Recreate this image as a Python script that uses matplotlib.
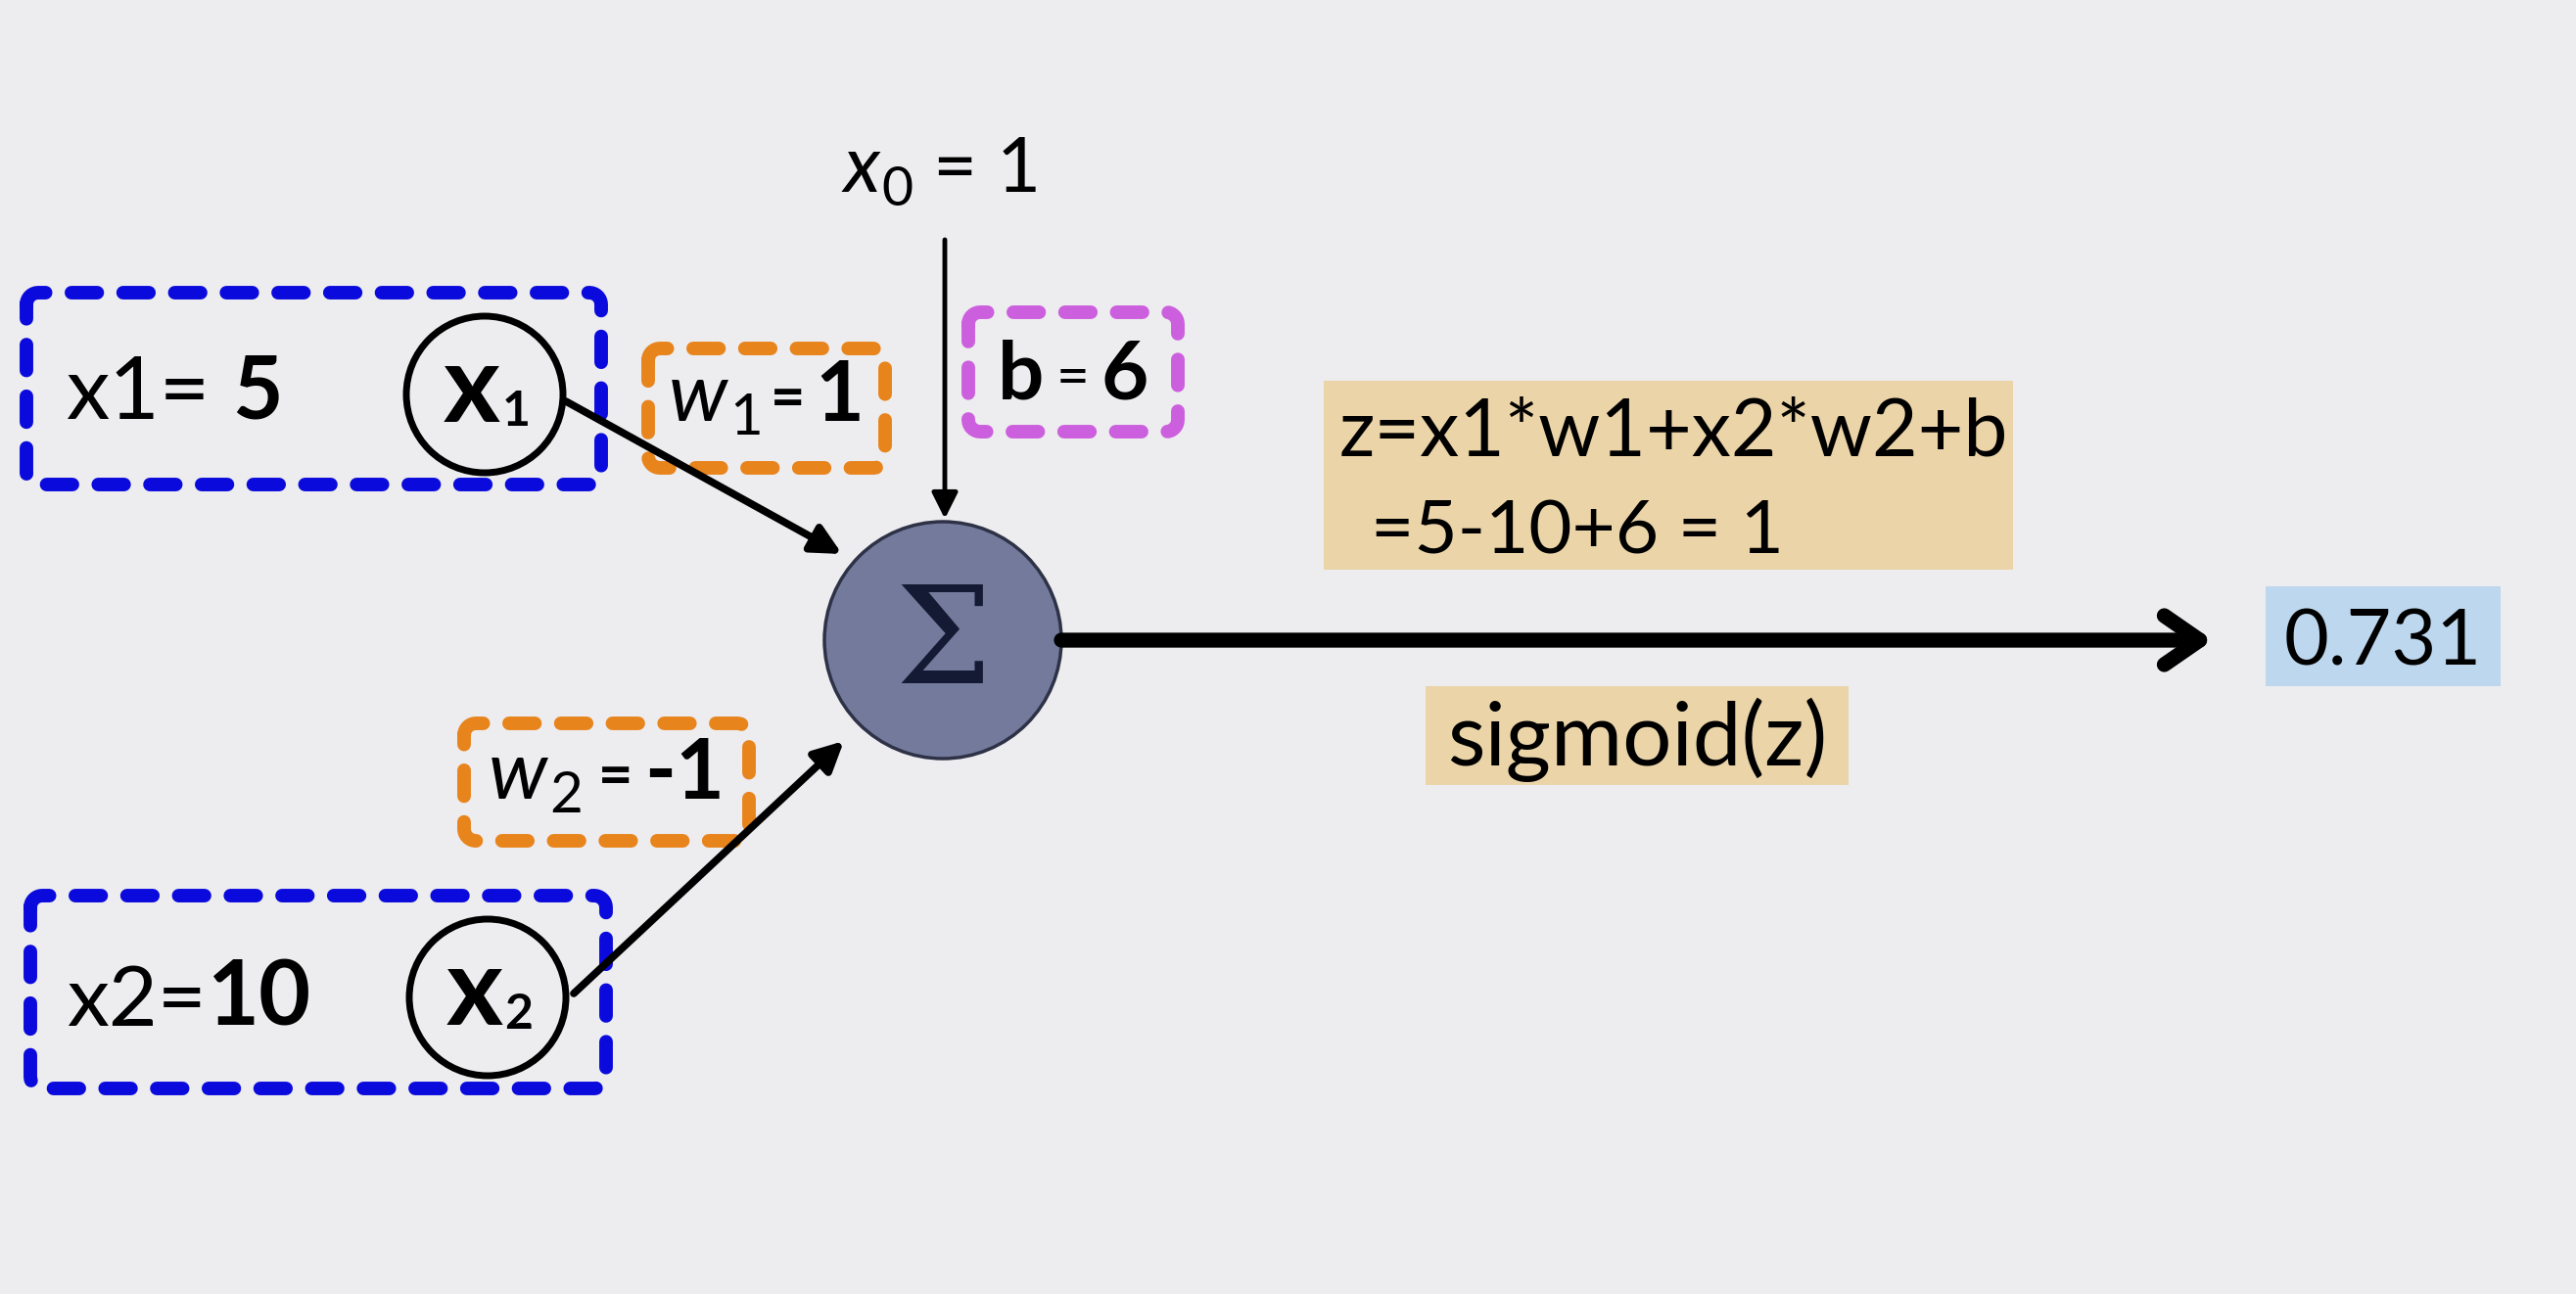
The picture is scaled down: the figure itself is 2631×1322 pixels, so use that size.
import matplotlib
matplotlib.use('Agg')
import numpy as np
import matplotlib.pyplot as plt
from matplotlib.patches import Circle, Rectangle

plt.rcParams['font.family'] = ['Lato', 'DejaVu Sans']

# values shown in the diagram
x_values = [5, 10]
weights = [1, -1]
bias = 6
x0 = 1
z_value = 1
output = 0.731

# layout (pixel coords of the 2631x1322 canvas)
W, H = 2631, 1322
bg = '#EDECEF'
sum_c, sum_r = (963, 654), 121
inp_c = [(495, 403), (498, 1019)]
inp_r = 80
inp_box = [(27, 299, 587, 196), (31, 915, 588, 197)]
w_box = [(662, 356, 242, 122), (474, 739, 291, 120)]
b_box = (989, 319, 214, 122)

fig = plt.figure(figsize=(W / 100, H / 100), dpi=100, facecolor=bg)
ax = fig.add_axes([0, 0, 1, 1])
ax.set_xlim(0, W)
ax.set_ylim(H, 0)
ax.set_facecolor(bg)
ax.axis('off')
rend = fig.canvas.get_renderer()


def dashed_box(rect, color, r=12):
    x, y, w, h = rect
    t = np.linspace(0, np.pi / 2, 8)
    # corner arcs, clockwise on screen starting at top-left
    xs, ys = [], []
    for cx, cy, a0 in [(x + r, y + r, np.pi), (x + w - r, y + r, 1.5 * np.pi),
                       (x + w - r, y + h - r, 0), (x + r, y + h - r, 0.5 * np.pi)]:
        xs.extend(cx + r * np.cos(a0 + t))
        ys.extend(cy + r * np.sin(a0 + t))
    xs.append(xs[0])
    ys.append(ys[0])
    ax.plot(xs, ys, color=color, lw=10, dashes=(1.9, 1.9),
            dash_capstyle='round', solid_joinstyle='round')


def runs(x, y, parts, ha='left'):
    # parts: (text, fontsize, weight, style, dy, gap_before)
    objs = []
    cx = x
    for s, size, weight, style, dy, gap in parts:
        cx += gap
        t = ax.text(cx, y + dy, s, fontsize=size, fontweight=weight, fontstyle=style,
                    va='baseline', ha='left')
        cx += t.get_window_extent(rend).width
        objs.append(t)
    if ha == 'center':
        shift = (cx - x) / 2
        for t in objs:
            px, py = t.get_position()
            t.set_position((px - shift, py))


# input boxes
for i in range(2):
    dashed_box(inp_box[i], '#0A0ADC')
    ax.add_patch(Circle(inp_c[i], inp_r, fill=False, edgecolor='black', lw=5))
    runs(inp_c[i][0] + 2, inp_c[i][1] + 28,
         [('x', 80, 'bold', 'normal', 0, 0),
          (str(i + 1), 36, 'bold', 'normal', 4, 2)], ha='center')

runs(68, 428, [('x1=', 64, 'normal', 'normal', 0, 0),
               (str(x_values[0]), 64, 'bold', 'normal', 0, 22)])
runs(68, 1048, [('x2=', 62, 'normal', 'normal', 0, 0),
                (str(x_values[1]), 66, 'bold', 'normal', 0, 0)])

# weight boxes
runs(w_box[0][0] + w_box[0][2] / 2, 430,
     [('w', 60, 'normal', 'italic', 0, 0),
      ('1', 42, 'normal', 'normal', 14, 2),
      ('=', 44, 'bold', 'normal', -4, 8),
      (str(weights[0]), 62, 'bold', 'normal', 0, 10)], ha='center')
runs(w_box[1][0] + w_box[1][2] / 2, 816,
     [('w', 60, 'normal', 'italic', 0, 0),
      ('2', 42, 'normal', 'normal', 14, 2),
      ('=', 44, 'bold', 'normal', -4, 16),
      ('-' + str(abs(weights[1])), 62, 'bold', 'normal', 0, 12)], ha='center')
dashed_box(w_box[0], '#E8841C')
dashed_box(w_box[1], '#E8841C')

# bias
dashed_box(b_box, '#CC5FDD')
runs(b_box[0] + b_box[2] / 2, 408,
     [('b', 60, 'bold', 'normal', 0, 0),
      ('=', 42, 'normal', 'normal', -4, 12),
      (str(bias), 60, 'bold', 'normal', 0, 12)], ha='center')

runs(962, 196, [('x', 58, 'normal', 'italic', 0, 0),
                ('0', 40, 'normal', 'normal', 14, 2),
                ('= %d' % x0, 56, 'normal', 'normal', 0, 20)], ha='center')

# arrows into the sum node
ax.annotate('', xy=(965, 530), xytext=(965, 245),
            arrowprops=dict(arrowstyle='-|>', lw=3.5, color='black', mutation_scale=40,
                            shrinkA=0, shrinkB=0))
ax.annotate('', xy=(860, 566), xytext=(578, 410),
            arrowprops=dict(arrowstyle='-|>', lw=5.5, color='black', mutation_scale=45,
                            shrinkA=0, shrinkB=0))
ax.annotate('', xy=(862, 757), xytext=(586, 1015),
            arrowprops=dict(arrowstyle='-|>', lw=5.5, color='black', mutation_scale=45,
                            shrinkA=0, shrinkB=0))

# sum node
ax.add_patch(Circle(sum_c, sum_r, facecolor='#737A9B', edgecolor='#2E3247', lw=2.5))
ax.text(sum_c[0], sum_c[1] + 6, 'Σ', fontsize=100, family='DejaVu Serif',
        ha='center', va='center', color='#141A33')

# output arrow
ax.annotate('', xy=(2260, 654), xytext=(1084, 654),
            arrowprops=dict(arrowstyle='->,head_length=0.65,head_width=0.45', lw=11,
                            color='black', mutation_scale=40, shrinkA=0, shrinkB=0,
                            capstyle='round', joinstyle='round'))

# formula box
ax.add_patch(Rectangle((1352, 389), 704, 193, facecolor='#EBD4A8', edgecolor='none'))
ax.text(1368, 466, 'z=x1*w1+x2*w2+b', fontsize=58, va='baseline')
ax.text(1400, 565, '=5-10+6 = %d' % z_value, fontsize=55, va='baseline')

# sigmoid label
ax.add_patch(Rectangle((1456, 701), 432, 101, facecolor='#EBD4A8', edgecolor='none'))
ax.text(1672, 782, 'sigmoid(z)', fontsize=64, ha='center', va='baseline')

# output value
ax.add_patch(Rectangle((2314, 599), 240, 102, facecolor='#BDD7EE', edgecolor='none'))
ax.text(2434, 680, '%.3f' % output, fontsize=57, ha='center', va='baseline')

fig.savefig('out.png', dpi=100, facecolor=bg)
